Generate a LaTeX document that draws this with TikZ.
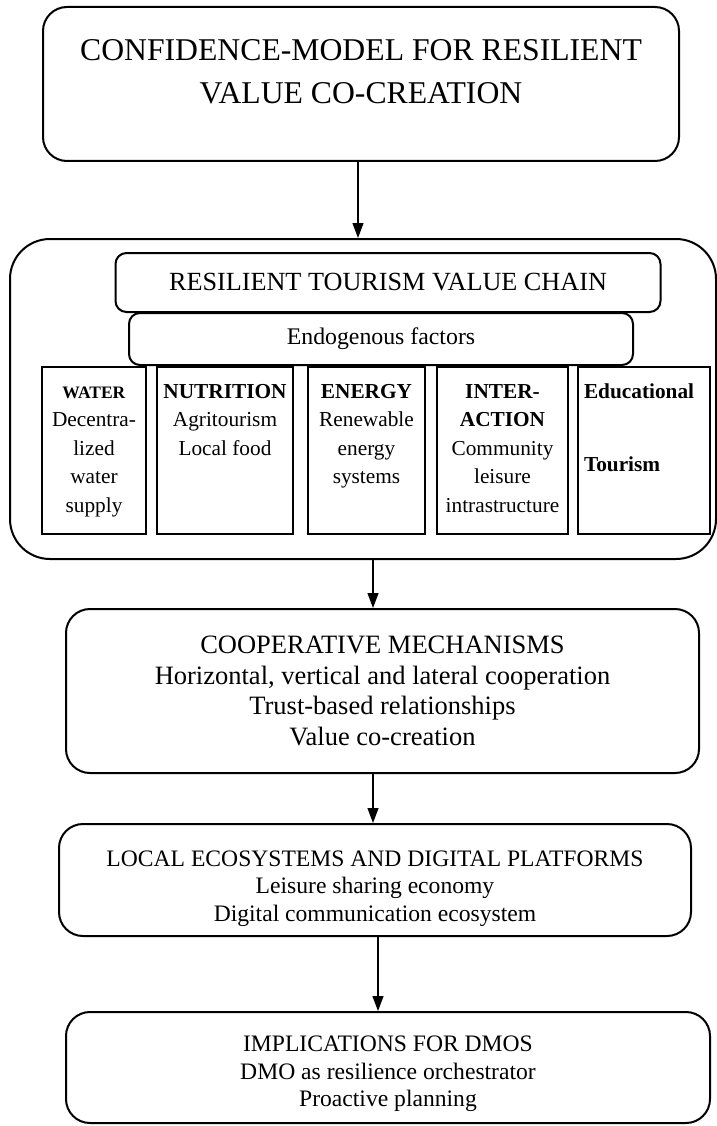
\documentclass[tikz,border=0pt]{standalone}
\usepackage{fontspec}
\setmainfont{Liberation Serif}
\usetikzlibrary{positioning,arrows.meta}
\newcommand{\coltext}[2]{\parbox[t][135pt][t]{#1}{\centering\rule{0pt}{15pt}#2}}

\begin{document}
\begin{tikzpicture}[
                x=1pt,y=-1pt,
                rbox/.style={draw,line width=2pt,rounded corners=24pt,inner sep=0pt,align=center},
                sbox/.style={draw,line width=2pt,rounded corners=11pt,inner sep=0pt,align=center},
                colbox/.style={draw,line width=2pt,anchor=north,inner xsep=2pt,inner ysep=16pt,font=\fontsize{21.3}{28.5}\selectfont},
                arr/.style={line width=1.2pt,-{Triangle[length=15pt,width=11pt]}}
            ]
                \useasboundingbox (0,0) rectangle (716,1126);
                \node (title) [rbox,minimum width=636pt,minimum height=154pt,text depth=25pt,font=\fontsize{31.7}{43}\selectfont] at (361,84)
                    {CONFIDENCE-MODEL FOR RESILIENT\\VALUE CO-CREATION};
                \node (outer) [rbox,rounded corners=40pt,minimum width=706pt,minimum height=320pt] at (363,399) {};
                \node (chain) [sbox,minimum width=545pt,minimum height=59pt,font=\fontsize{26.2}{30}\selectfont] at (388,282.5)
                    {RESILIENT TOURISM VALUE CHAIN};
                \node (endo) [sbox,minimum width=504pt,minimum height=52pt,font=\fontsize{23.8}{28}\selectfont] at (381,339)
                    {Endogenous factors};
                \node (water) [colbox] at (94,366)
                    {\coltext{100pt}{{\fontsize{17.5}{28.5}\selectfont\textbf{WATER}}\\Decentra-\\lized\\water\\supply}};
                \node (nutrition) [colbox] at (225,366)
                    {\coltext{132pt}{\textbf{NUTRITION}\\Agritourism\\Local food}};
                \node (energy) [colbox] at (366.5,366)
                    {\coltext{113pt}{\textbf{ENERGY}\\Renewable\\energy\\systems}};
                \node (interaction) [colbox] at (502.5,366)
                    {\coltext{127pt}{\textbf{INTER-}\\\textbf{ACTION}\\Community\\leisure\\intrastructure}};
                \node (education) [colbox] at (644,366)
                    {\coltext{128pt}{\raggedright\hspace*{4pt}\textbf{Educational}\\[45pt]\hspace*{4pt}\textbf{Tourism}}};
                \node (coop) [rbox,minimum width=633pt,minimum height=164pt,font=\fontsize{26.5}{30.7}\selectfont] at (382.5,691)
                    {COOPERATIVE MECHANISMS\\Horizontal, vertical and lateral cooperation\\Trust-based relationships\\Value co-creation};
                \node (local) [rbox,minimum width=632pt,minimum height=112pt,font=\fontsize{23.6}{27.5}\selectfont] at (375,880)
                    {\rule{0pt}{33pt}LOCAL ECOSYSTEMS AND DIGITAL PLATFORMS\\Leisure sharing economy\\Digital communication ecosystem};
                \node (impl) [rbox,minimum width=644pt,minimum height=111pt,font=\fontsize{23.6}{27.5}\selectfont] at (388,1067.5)
                    {\rule{0pt}{29pt}IMPLICATIONS FOR DMOS\\DMO as resilience orchestrator\\Proactive planning};
                \draw[arr] ([xshift=-3pt]title.south) -- ([xshift=-3pt]title.south |- outer.north);
                \draw[arr] ([xshift=10pt]outer.south) -- ([xshift=10pt]outer.south |- coop.north);
                \draw[arr] ([xshift=-9.5pt]coop.south) -- ([xshift=-9.5pt]coop.south |- local.north);
                \draw[arr] ([xshift=3pt]local.south) -- ([xshift=3pt]local.south |- impl.north);
            \end{tikzpicture}
\end{document}
